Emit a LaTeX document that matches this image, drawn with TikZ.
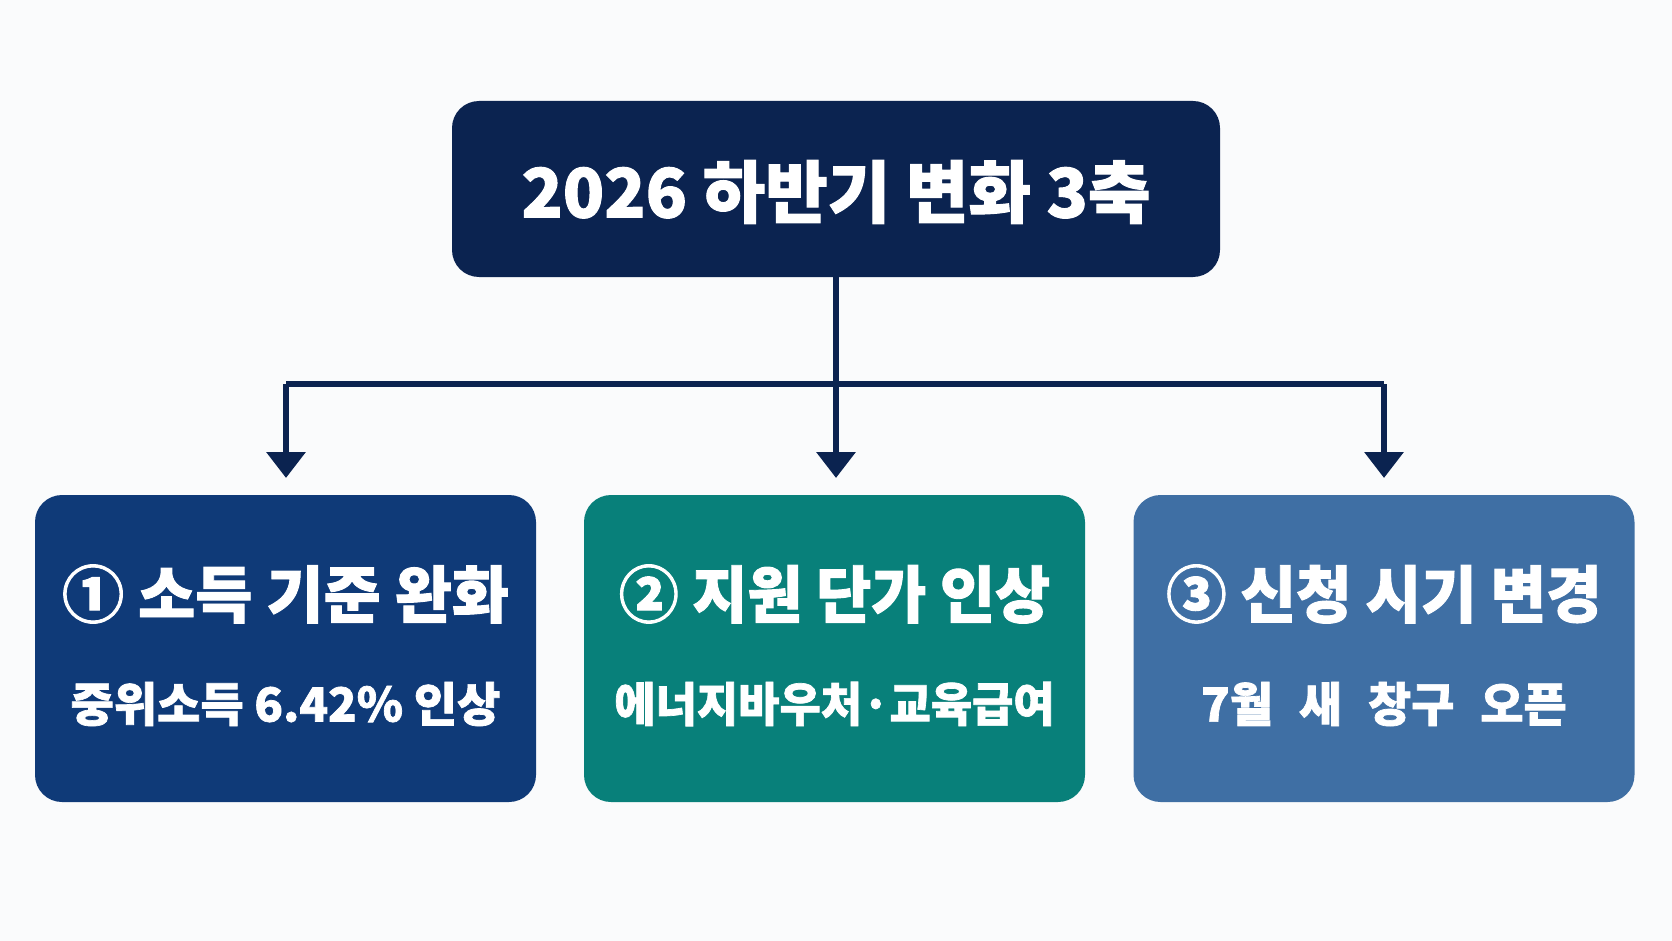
\documentclass[tikz,border=0pt]{standalone}
\usepackage{fontspec}
\newfontfamily\kr{Noto Sans CJK KR}[BoldFont={* Black}, BoldFeatures={FakeBold=1.5}]
\usetikzlibrary{arrows.meta}
\definecolor{navy}{HTML}{0B2350}
\definecolor{boxA}{HTML}{0F3A78}
\definecolor{boxB}{HTML}{08807A}
\definecolor{boxC}{HTML}{3F6FA4}
\definecolor{bg}{HTML}{FAFBFC}
\tikzset{
  card/.style={rounded corners=27pt, minimum width=501pt, minimum height=307pt, inner sep=0pt},
  head/.style={fill=navy, rounded corners=27pt, minimum width=768pt, minimum height=176pt, inner sep=0pt},
  ttl/.style={text=white, font=\kr\bfseries\fontsize{68}{72}\selectfont, inner sep=0pt},
  big/.style={text=white, font=\kr\bfseries\fontsize{62}{66}\selectfont, inner sep=0pt},
  small/.style={text=white, font=\kr\bfseries\fontsize{47}{50}\selectfont, inner sep=0pt},
  conn/.style={draw=navy, line width=6.5pt},
  arr/.style={conn, -{Triangle[length=26pt,width=38pt]}}
}
\begin{document}
\begin{tikzpicture}[x=1pt,y=-1pt]
\fill[bg] (0,0) rectangle (1672,941);
\useasboundingbox (0,0) rectangle (1672,941);
\node[head] (top) at (836,189) {};
\node[ttl] (toptext) at (836,192) {2026 하반기 변화 3축};
\node[card, fill=boxA] (b1) at (285.5,648.5) {};
\node[card, fill=boxB] (b2) at (834.5,648.5) {};
\node[card, fill=boxC] (b3) at (1384,648.5) {};
\node[big] (t1) at (285.5,594) {① 소득 기준 완화};
\node[small] (s1) at (285.5,704) {중위소득 6.42\% 인상};
\node[big] (t2) at (834.5,594) {\scalebox{0.965}[1]{② 지원 단가 인상}};
\node[small] (s2) at (834.5,704) {\scalebox{0.955}[1]{에너지바우처·교육급여}};
\node[big] (t3) at (1384,594) {\scalebox{0.975}[1]{③ 신청 시기 변경}};
\node[small] (s3) at (1384,704) {7월\hspace{0.55em}새\hspace{0.55em}창구\hspace{0.55em}오픈};
\coordinate (j) at (836,384);
\coordinate (jl) at (286,384);
\coordinate (jr) at (1384,384);
\draw[conn] (top.south) -- (j);
\draw[conn] (jl) -- (jr);
\draw[arr] (jl) -- (286,478);
\draw[arr] (j) -- (836,478);
\draw[arr] (jr) -- (1384,478);
\end{tikzpicture}
\end{document}
